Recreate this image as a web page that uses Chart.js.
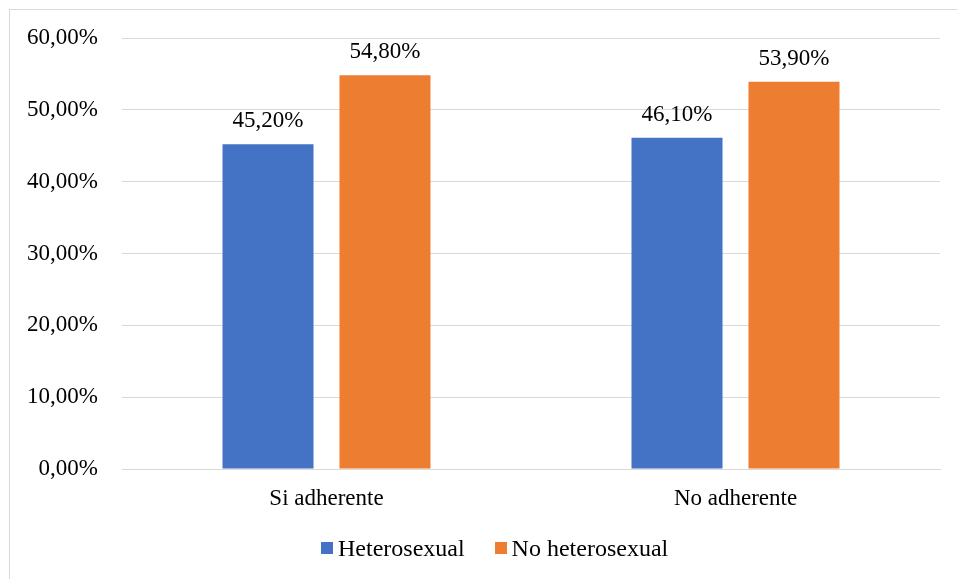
<!DOCTYPE html>
<html>
<head>
<meta charset="utf-8">
<script src="https://cdn.jsdelivr.net/npm/chart.js@4"></script>
<style>
  html, body { margin: 0; padding: 0; background: #fff; }
  #wrap { width: 957px; height: 579px; position: relative; overflow: hidden; }
  #legend {
    position: absolute; left: 321px; top: 533px; height: 30px;
    display: flex; align-items: center; white-space: nowrap;
    font-family: 'Liberation Serif', 'Times New Roman', serif; font-size: 24px; color: #000;
  }
  #legend .item { display: flex; align-items: center; margin-right: 30px; }
  #legend .box { width: 12px; height: 12px; margin-right: 5px; }
</style>
</head>
<body>
<div id="wrap"><canvas id="chart" width="957" height="579"></canvas><div id="legend"></div></div>
<script>
// data
const categories = ["Si adherente", "No adherente"];
const heterosexual = [45.2, 46.1];
const noHeterosexual = [54.8, 53.9];
const seriesNames = ["Heterosexual", "No heterosexual"];
const seriesColors = ["#4472C4", "#ED7D31"];
const yTicks = [0, 10, 20, 30, 40, 50, 60];

const FONT = "'Liberation Serif', 'Times New Roman', serif";
const fmt = v => v.toFixed(2).replace(".", ",") + "%";

// outer frame of the chart box
const framePlugin = {
  id: "frame",
  beforeDraw(chart) {
    const c = chart.ctx;
    c.save();
    c.fillStyle = "#fff";
    c.fillRect(0, 0, chart.width, chart.height);
    c.strokeStyle = "#d9d9d9";
    c.lineWidth = 1;
    c.strokeRect(9.5, 9.5, chart.width + 20, chart.height + 20);
    c.restore();
  }
};

// value labels above each bar
const valueLabels = {
  id: "valueLabels",
  afterDatasetsDraw(chart) {
    const c = chart.ctx;
    c.save();
    c.font = "23px " + FONT;
    c.fillStyle = "#000";
    c.textAlign = "center";
    c.textBaseline = "middle";
    chart.data.datasets.forEach((ds, i) => {
      chart.getDatasetMeta(i).data.forEach((bar, j) => {
        c.fillText(fmt(ds.data[j]), bar.x, bar.y - 23);
      });
    });
    c.restore();
  }
};

const ctx = document.getElementById("chart");
const chart = new Chart(ctx, {
  type: "bar",
  data: {
    labels: categories,
    datasets: [
      { label: seriesNames[0], data: heterosexual, backgroundColor: seriesColors[0] },
      { label: seriesNames[1], data: noHeterosexual, backgroundColor: seriesColors[1] }
    ]
  },
  options: {
    responsive: false,
    animation: false,
    devicePixelRatio: 1,
    categoryPercentage: 0.572,
    barPercentage: 0.778,
    layout: { padding: { top: 38, right: 17, bottom: 60, left: 0 } },
    plugins: {
      legend: { display: false },
      tooltip: { enabled: false }
    },
    scales: {
      x: {
        afterFit(axis) { axis.height = 50; },
        grid: { display: false, drawTicks: false },
        border: { display: true, color: "#d9d9d9" },
        ticks: { font: { family: FONT, size: 23 }, color: "#000", padding: 16 }
      },
      y: {
        min: 0,
        max: 60,
        afterBuildTicks(axis) { axis.ticks = yTicks.map(v => ({ value: v })); },
        afterFit(axis) { axis.width = 122; },
        grid: { color: "#d9d9d9", drawTicks: false },
        border: { display: false },
        ticks: {
          font: { family: FONT, size: 23 },
          color: "#000",
          padding: 24,
          callback: v => fmt(v)
        }
      }
    }
  },
  plugins: [framePlugin, valueLabels]
});

// legend built from the dataset names and colours
const legend = document.getElementById("legend");
chart.data.datasets.forEach(ds => {
  const item = document.createElement("span");
  item.className = "item";
  const box = document.createElement("span");
  box.className = "box";
  box.style.background = ds.backgroundColor;
  item.appendChild(box);
  item.appendChild(document.createTextNode(ds.label));
  legend.appendChild(item);
});
</script>
</body>
</html>
